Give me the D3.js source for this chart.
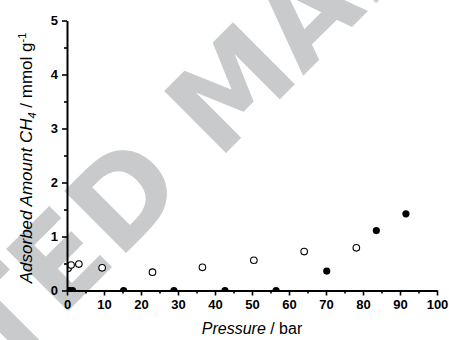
<!DOCTYPE html>
<html>
<head>
<meta charset="utf-8">
<script src="https://cdn.jsdelivr.net/npm/d3@7"></script>
<style>
  html, body { margin: 0; padding: 0; background: #fff; }
  svg { display: block; }
</style>
</head>
<body>
<svg id="chart" width="449" height="340"></svg>
<script>
// CH4 adsorption isotherm: amount adsorbed vs. pressure
const openPressure = [0.3, 1.1, 3.2, 9.5, 23.1, 36.6, 50.5, 64.1, 78.2];
const openAmount   = [0.41, 0.47, 0.49, 0.42, 0.34, 0.43, 0.56, 0.72, 0.79];

const filledPressure = [0.3, 0.8, 1.5, 15.3, 28.9, 42.7, 56.5, 70.2, 83.6, 91.6];
const filledAmount   = [0, 0, 0, 0, 0, 0, 0, 0.36, 1.11, 1.42];

const xTicks = [0, 10, 20, 30, 40, 50, 60, 70, 80, 90, 100];
const yTicks = [0, 1, 2, 3, 4, 5];
const xMinor = d3.range(5, 100, 10);
const yMinor = d3.range(0.5, 5, 1);

const watermarkText = "ACCEPTED MANUSCRIPT";

const svg = d3.select("#chart");
const plot = { left: 67, right: 437, top: 20.5, bottom: 290.5 };

const x = d3.scaleLinear().domain([0, 100]).range([plot.left, plot.right]);
const y = d3.scaleLinear().domain([0, 5]).range([plot.bottom, plot.top]);

// watermark behind everything
svg.append("text")
  .attr("transform", "translate(-308,687) rotate(-45)")
  .attr("font-family", "DejaVu Sans, sans-serif")
  .attr("font-weight", "bold")
  .attr("font-size", 120)
  .attr("fill", "#c9cacc")
  .text(watermarkText);

// clip markers to the plot area
svg.append("defs").append("clipPath").attr("id", "plotClip")
  .append("rect")
  .attr("x", plot.left).attr("y", plot.top - 10)
  .attr("width", plot.right - plot.left + 10)
  .attr("height", plot.bottom - plot.top + 10);

const marks = svg.append("g").attr("clip-path", "url(#plotClip)");

marks.selectAll("circle.open")
  .data(d3.zip(openPressure, openAmount))
  .join("circle")
  .attr("class", "open")
  .attr("cx", d => x(d[0]))
  .attr("cy", d => y(d[1]))
  .attr("r", 3.3)
  .attr("fill", "#fff")
  .attr("stroke", "#000")
  .attr("stroke-width", 1.1);

marks.selectAll("circle.filled")
  .data(d3.zip(filledPressure, filledAmount))
  .join("circle")
  .attr("class", "filled")
  .attr("cx", d => x(d[0]))
  .attr("cy", d => y(d[1]))
  .attr("r", 3.6)
  .attr("fill", "#000");

// axes
const font = "Liberation Sans, Arial, sans-serif";

svg.append("g")
  .attr("transform", `translate(0,${plot.bottom})`)
  .call(d3.axisBottom(x).tickValues(xTicks).tickFormat(d3.format("d"))
    .tickSize(5).tickSizeOuter(0).tickPadding(4));
const xMinorG = svg.append("g")
  .attr("transform", `translate(0,${plot.bottom})`)
  .call(d3.axisBottom(x).tickValues(xMinor).tickSize(3).tickFormat("").tickSizeOuter(0));
xMinorG.select(".domain").remove();

svg.append("g")
  .attr("transform", `translate(${plot.left},0)`)
  .call(d3.axisLeft(y).tickValues(yTicks).tickFormat(d3.format("d"))
    .tickSize(5).tickSizeOuter(0).tickPadding(4));
const yMinorG = svg.append("g")
  .attr("transform", `translate(${plot.left},0)`)
  .call(d3.axisLeft(y).tickValues(yMinor).tickSize(3).tickFormat("").tickSizeOuter(0));
yMinorG.select(".domain").remove();

svg.selectAll(".domain").attr("stroke", "#000").attr("stroke-width", 2);
svg.selectAll(".tick line").attr("stroke", "#000").attr("stroke-width", 1.6);
svg.selectAll(".tick text")
  .attr("font-family", font)
  .attr("font-weight", "bold")
  .attr("font-size", 13)
  .attr("fill", "#000");

// axis titles
const xTitle = svg.append("text")
  .attr("x", (plot.left + plot.right) / 2)
  .attr("y", 334)
  .attr("text-anchor", "middle")
  .attr("font-family", font)
  .attr("font-size", 16)
  .attr("fill", "#000");
xTitle.append("tspan").attr("font-style", "italic").text("Pressure");
xTitle.append("tspan").text(" / bar");

const yTitle = svg.append("text")
  .attr("transform", "translate(32,158) rotate(-90)")
  .attr("text-anchor", "middle")
  .attr("font-family", font)
  .attr("font-size", 17)
  .attr("fill", "#000");
yTitle.append("tspan").attr("font-style", "italic").text("Adsorbed Amount CH");
yTitle.append("tspan").attr("font-style", "italic").attr("font-size", 11).attr("dy", 4).text("4");
yTitle.append("tspan").attr("dy", -4).text(" / mmol g");
yTitle.append("tspan").attr("font-size", 11).attr("dy", -6).text("-1");
</script>
</body>
</html>
